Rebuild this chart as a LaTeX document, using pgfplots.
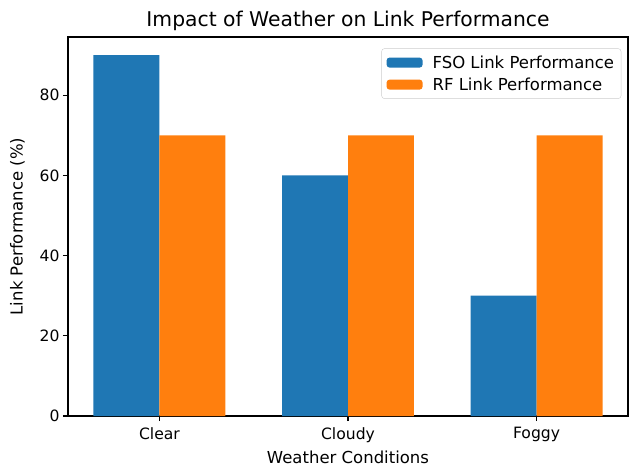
\documentclass[border=0pt]{standalone}
\usepackage{pgfplots}
\pgfplotsset{compat=1.18}
\usepackage{fontspec}
\setmainfont{DejaVu Sans}
\definecolor{c0}{HTML}{1F77B4}
\definecolor{c1}{HTML}{FF7F0E}
\begin{document}
\begin{tikzpicture}
\begin{axis}[
  width=560pt, height=379pt, scale only axis,
  xmin=-0.485, xmax=2.485, ymin=0, ymax=94.5,
  xtick={0,1,2}, xticklabels={Clear,Cloudy,Foggy},
  ytick={0,20,40,60,80},
  tick align=outside, tick pos=left, major tick length=5pt,
  tick style={black, line width=1.1pt},
  axis line style={line width=1.1pt},
  /pgf/number format/assume math mode=true,
  ticklabel style={font=\fontsize{15.6}{17}\selectfont},
  xticklabel style={yshift=-3pt},
  label style={font=\fontsize{16.5}{18}\selectfont},
  title style={font=\fontsize{20.3}{23}\selectfont, yshift=-3pt},
  title={Impact of Weather on Link Performance},
  xlabel={Weather Conditions},
  xlabel style={yshift=-1pt},
  ylabel={Link Performance (\%)},
  ylabel style={yshift=8pt},
  ybar, bar width=0.35, bar shift=0pt,
  legend style={at={(0.988,0.97)}, anchor=north east, draw=black!20, rounded corners=3pt,
    font=\fontsize{16.5}{19}\selectfont, row sep=4pt, inner sep=5pt},
  legend cell align=left,
  legend image code/.code={\fill[#1] (0pt,-5pt) rectangle (36pt,5pt);},
]
\addplot[fill=c0, draw=none] coordinates {(-0.175,90) (0.825,60) (1.825,30)};
\addlegendentry{\hspace{8pt}FSO Link Performance}
\addplot[fill=c1, draw=none] coordinates {(0.175,70) (1.175,70) (2.175,70)};
\addlegendentry{\hspace{8pt}RF Link Performance}
\end{axis}
\useasboundingbox ([xshift=-68pt,yshift=-51pt]current axis.south west) rectangle ([xshift=9pt,yshift=37pt]current axis.north east);
\end{tikzpicture}
\end{document}
